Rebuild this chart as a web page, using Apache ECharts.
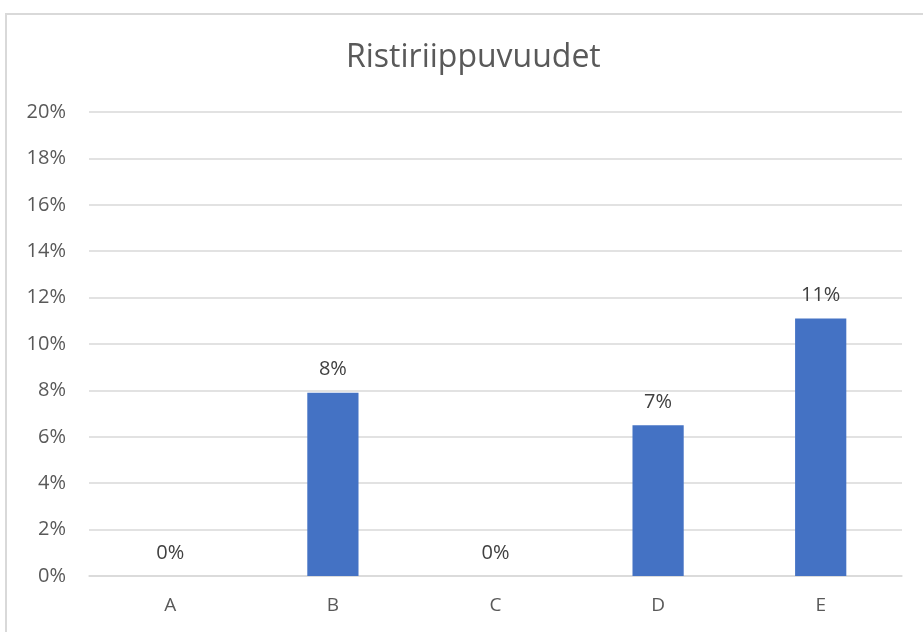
<!DOCTYPE html>
<html>
<head>
<meta charset="utf-8">
<script src="https://cdn.jsdelivr.net/npm/echarts@6/dist/echarts.min.js"></script>
<style>
  html, body { margin: 0; padding: 0; background: #fff; }
  #chart { width: 923px; height: 632px; }
</style>
</head>
<body>
<div id="chart"></div>
<script>
// Chart data
const categories = ['A', 'B', 'C', 'D', 'E'];
const shares = [0, 0.079, 0, 0.065, 0.111];
const yTicks = [0, 0.02, 0.04, 0.06, 0.08, 0.10, 0.12, 0.14, 0.16, 0.18, 0.20];

const pct = v => Math.round(v * 100) + '%';
const FONT = 'Open Sans, Noto Sans, sans-serif';

const chart = echarts.init(document.getElementById('chart'));
chart.setOption({
  animation: false,
  backgroundColor: '#fff',
  textStyle: { fontFamily: FONT },
  graphic: [{
    type: 'rect',
    shape: { x: 6, y: 14, width: 1000, height: 1000 },
    style: { fill: 'none', stroke: '#d9d9d9', lineWidth: 2 },
    silent: true
  }],
  title: {
    text: 'Ristiriippuvuudet',
    left: 341,
    top: 37,
    textStyle: { fontSize: 32, fontWeight: 'normal', color: '#595959', fontFamily: FONT }
  },
  grid: { left: 89, right: 21, top: 112, bottom: 56, containLabel: false },
  xAxis: {
    type: 'category',
    data: categories,
    axisLine: { lineStyle: { color: '#d9d9d9', width: 1.5 } },
    axisTick: { show: false },
    axisLabel: { color: '#595959', fontSize: 19, fontFamily: FONT, margin: 20 }
  },
  yAxis: {
    type: 'value',
    min: yTicks[0],
    max: yTicks[yTicks.length - 1],
    interval: 0.02,
    axisLine: { show: false },
    axisTick: { show: false },
    splitLine: { lineStyle: { color: '#d9d9d9', width: 1.5 } },
    axisLabel: { color: '#595959', fontSize: 20, fontFamily: FONT, margin: 23, formatter: v => pct(v) }
  },
  series: [{
    type: 'bar',
    data: shares,
    barWidth: '31.5%',
    itemStyle: { color: '#4472c4' },
    label: {
      show: true,
      position: 'top',
      distance: 13,
      color: '#404040',
      fontSize: 20,
      fontFamily: FONT,
      formatter: p => pct(p.value)
    }
  }]
});
</script>
</body>
</html>
